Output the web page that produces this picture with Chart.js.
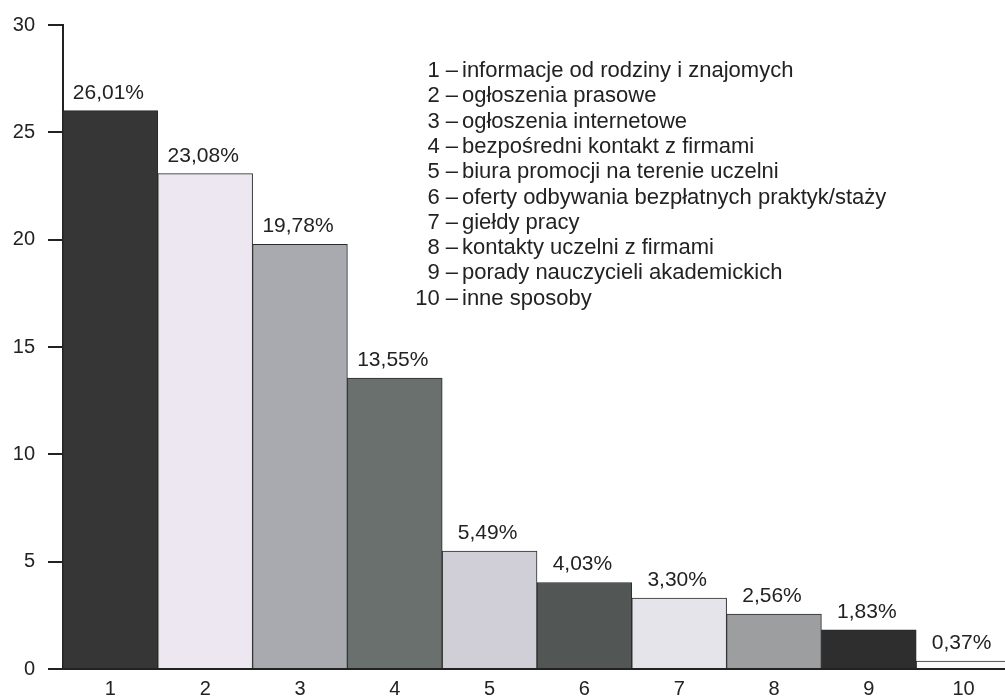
<!DOCTYPE html>
<html>
<head>
<meta charset="utf-8">
<script src="https://cdn.jsdelivr.net/npm/chart.js@4/dist/chart.umd.min.js"></script>
<style>
  html, body { margin: 0; padding: 0; background: #fff; overflow: hidden; }
  canvas { display: block; }
</style>
</head>
<body>
<canvas id="chart" width="1011" height="697"></canvas>
<script>
var categories = ['1', '2', '3', '4', '5', '6', '7', '8', '9', '10'];
var values = [26.01, 23.08, 19.78, 13.55, 5.49, 4.03, 3.30, 2.56, 1.83, 0.37];
var barColors = ['#363636', '#ede7f1', '#a8aab0', '#6a706e', '#d0cfd7', '#525755', '#e5e4eb', '#9c9ea0', '#2e2e2e', '#fafafa'];
var yMax = 30;
var yStep = 5;
var legendNames = [
  'informacje od rodziny i znajomych',
  'ogłoszenia prasowe',
  'ogłoszenia internetowe',
  'bezpośredni kontakt z firmami',
  'biura promocji na terenie uczelni',
  'oferty odbywania bezpłatnych praktyk/staży',
  'giełdy pracy',
  'kontakty uczelni z firmami',
  'porady nauczycieli akademickich',
  'inne sposoby'
];

var FONT = '"Liberation Sans", Arial, Helvetica, sans-serif';
var TEXT = '#222';

function fmt(v) {
  return v.toFixed(2).replace('.', ',') + '%';
}

var labelsPlugin = {
  id: 'labelsPlugin',
  afterDatasetsDraw: function (chart) {
    var ctx = chart.ctx;
    var meta = chart.getDatasetMeta(0);
    ctx.save();
    ctx.fillStyle = TEXT;
    ctx.font = '21px ' + FONT;
    ctx.textAlign = 'center';
    ctx.textBaseline = 'alphabetic';
    meta.data.forEach(function (bar, i) {
      ctx.fillText(fmt(values[i]), bar.x - 2, bar.y - 12);
    });

    // category key, top right
    ctx.font = '22px ' + FONT;
    var left = 462, top = 77, step = 25.3;
    legendNames.forEach(function (name, i) {
      var y = top + i * step;
      ctx.textAlign = 'right';
      ctx.fillText(categories[i] + ' –', left - 4, y);
      ctx.textAlign = 'left';
      ctx.fillText(name, left, y);
    });
    ctx.restore();
  }
};

new Chart(document.getElementById('chart').getContext('2d'), {
  type: 'bar',
  data: {
    labels: categories,
    datasets: [{
      data: values,
      backgroundColor: barColors,
      borderColor: '#2a2a2a',
      borderWidth: 1,
      borderSkipped: 'bottom',
      barPercentage: 1,
      categoryPercentage: 1
    }]
  },
  options: {
    responsive: false,
    animation: false,
    devicePixelRatio: 1,
    layout: { padding: { top: 21, right: 0, left: 0, bottom: 0 } },
    plugins: {
      legend: { display: false },
      tooltip: { enabled: false }
    },
    scales: {
      x: {
        offset: true,
        grid: { display: false, drawTicks: false },
        border: { display: true, color: '#222', width: 2 },
        ticks: { color: TEXT, font: { family: FONT, size: 20 }, padding: 8, maxRotation: 0 },
        afterFit: function (s) { s.height = 28; }
      },
      y: {
        min: 0,
        max: yMax,
        grid: { display: true, drawOnChartArea: false, drawTicks: true, tickLength: 15, color: '#222', lineWidth: 2 },
        border: { display: true, color: '#222', width: 2 },
        ticks: { stepSize: yStep, color: TEXT, font: { family: FONT, size: 20 }, padding: 13 },
        afterFit: function (s) { s.width = 63; }
      }
    }
  },
  plugins: [labelsPlugin]
});
</script>
</body>
</html>
